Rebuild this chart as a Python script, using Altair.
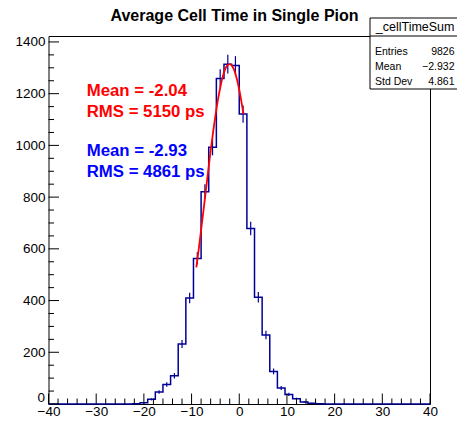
import altair as alt
import pandas as pd

# ---------------- data ----------------
BIN_LO = -40.0
BIN_W = 1.6
counts = [0, 0, 0, 0, 0, 0, 0, 0, 0, 0,
          0, 1, 5, 18, 46, 75, 109, 232, 410, 563,
          821, 993, 1259, 1314, 1309, 1121, 679, 413, 267, 126,
          62, 37, 20, 8, 3, 1, 0, 0, 0, 0,
          0, 0, 0, 0, 0, 0, 0, 0, 0, 0]

fit_x = [-9.0, -8.5, -8.0, -7.5, -7.0, -6.5, -6.0, -5.5, -5.0, -4.5, -4.0,
         -3.5, -3.0, -2.5, -2.0, -1.5, -1.0, -0.5, 0.0, 0.5, 0.9]
fit_y = [528, 598, 673, 749, 826, 904, 978, 1049, 1114, 1173, 1222,
         1263, 1292, 1309, 1314, 1307, 1288, 1257, 1215, 1164, 1121]

x_major = [-40, -30, -20, -10, 0, 10, 20, 30, 40]
x_minor = [v for v in range(-40, 41, 2) if v % 10 != 0]
y_major = [0, 200, 400, 600, 800, 1000, 1200, 1400]
y_minor = [v for v in range(0, 1401, 50) if v % 200 != 0]

title_text = "Average Cell Time in Single Pion"
red_lines = ["Mean = -2.04", "RMS = 5150 ps"]
blue_lines = ["Mean = -2.93", "RMS = 4861 ps"]
stats_name = "_cellTimeSum"
stats_labels = ["Entries", "Mean", "Std Dev"]
stats_values = ["9826", "\u22122.932", "4.861"]

# ---------------- layout ----------------
W, H = 381.5, 368
NAVY = "#000099"
FONT = "Liberation Sans"

edges = [BIN_LO + BIN_W * i for i in range(len(counts))]
hist_df = pd.DataFrame({"x": edges + [40.0], "y": counts + [counts[-1]]})
err_df = pd.DataFrame({"x": [e + BIN_W / 2 for e in edges], "y": counts})
err_df = err_df[err_df["y"] > 0]
fit_df = pd.DataFrame({"x": fit_x, "y": fit_y})

xs = alt.Scale(domain=[-40, 40], nice=False, zero=False)
ys = alt.Scale(domain=[0, 1423], nice=False)
xaxis = alt.Axis(title=None, values=x_major, ticks=False, domain=False, grid=False,
                 labelFont=FONT, labelFontSize=13.5, labelColor="black", format="d",
                 labelPadding=0.5, labelFlush=False, labelOverlap=False)
yaxis = alt.Axis(title=None, values=y_major[1:], ticks=False, domain=False, grid=False,
                 labelFont=FONT, labelFontSize=13.5, labelColor="black", format="d",
                 labelPadding=3.5, labelFlush=False, labelOverlap=False)

X = lambda f: alt.X(f, scale=xs, axis=xaxis)
Y = lambda f: alt.Y(f, scale=ys, axis=yaxis)

hist = alt.Chart(hist_df).mark_line(interpolate="step-after", color=NAVY,
                                    strokeWidth=1.5).encode(x=X("x:Q"), y=Y("y:Q"))

err = alt.Chart(err_df).transform_calculate(
    lo="datum.y - sqrt(datum.y)", hi="datum.y + sqrt(datum.y)"
).mark_rule(color=NAVY, strokeWidth=1.2).encode(x=X("x:Q"), y=Y("lo:Q"), y2="hi:Q")

fit = alt.Chart(fit_df).mark_line(color="#ff0000", strokeWidth=1.8,
                                  interpolate="monotone").encode(x=X("x:Q"), y=Y("y:Q"))

xt_major = alt.Chart(pd.DataFrame({"x": x_major})).mark_rule(color="black").encode(
    x=X("x:Q"), y=alt.value(H - 10.5), y2=alt.value(H))
xt_minor = alt.Chart(pd.DataFrame({"x": x_minor})).mark_rule(color="black").encode(
    x=X("x:Q"), y=alt.value(H - 5.5), y2=alt.value(H))
yt_major = alt.Chart(pd.DataFrame({"y": y_major})).mark_rule(color="black").encode(
    y=Y("y:Q"), x=alt.value(0), x2=alt.value(10.5))
yt_minor = alt.Chart(pd.DataFrame({"y": y_minor})).mark_rule(color="black").encode(
    y=Y("y:Q"), x=alt.value(0), x2=alt.value(5.5))

one = pd.DataFrame({"a": [0]})


def txt(s, x, y, size, color="black", weight="normal", align="left", baseline="alphabetic"):
    return alt.Chart(one).mark_text(font=FONT, fontSize=size, fontWeight=weight, color=color,
                                    align=align, baseline=baseline).encode(
        x=alt.value(x), y=alt.value(y), text=alt.value(s))


zero_label = txt(str(y_major[0]), -3.5, H - 6.5, 13.5, align="right", baseline="middle")
title = txt(title_text, 186, -15, 16, weight="bold", align="center")
ann = [
    txt(red_lines[0], 38.2, 59.5, 16.8, color="#ff0000", weight="bold"),
    txt(red_lines[1], 38.2, 80.5, 16.8, color="#ff0000", weight="bold"),
    txt(blue_lines[0], 38.2, 119.5, 16.8, color="#0000ff", weight="bold"),
    txt(blue_lines[1], 38.2, 141, 16.8, color="#0000ff", weight="bold"),
]

box = alt.Chart(one).mark_rect(fill="white", stroke="black", strokeWidth=1).encode(
    x=alt.value(321.5), x2=alt.value(430), y=alt.value(-18), y2=alt.value(53))
sep = alt.Chart(one).mark_rule(color="black", strokeWidth=1).encode(
    x=alt.value(321.5), x2=alt.value(430), y=alt.value(0))
stats = [txt(stats_name, 406, -9, 12.5, align="right", baseline="middle")]
for i, (lab, val) in enumerate(zip(stats_labels, stats_values)):
    yy = 16 + 15 * i
    stats.append(txt(lab, 326.5, yy, 10.5, baseline="middle"))
    stats.append(txt(val, 406, yy, 10.5, align="right", baseline="middle"))

chart = alt.layer(
    hist, err, fit, xt_major, xt_minor, yt_major, yt_minor, zero_label, title, *ann,
    box, sep, *stats
).properties(
    width=W, height=H,
    padding={"left": 40.5, "top": 28, "right": 27, "bottom": 15},
    autosize=alt.AutoSizeParams(type="none"),
    background="white",
).configure_view(stroke="black", strokeWidth=1)

chart.save("out.html", embed_options={"renderer": "svg", "actions": False})
